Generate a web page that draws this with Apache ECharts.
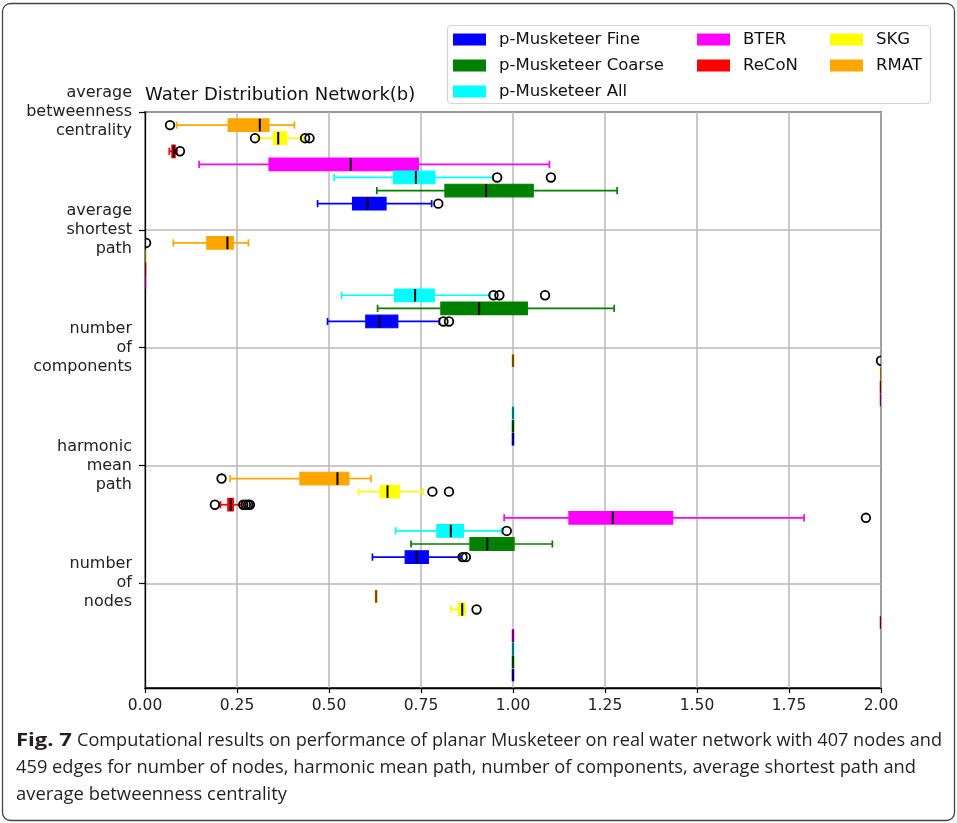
<!DOCTYPE html>
<html>
<head>
<meta charset="utf-8">
<script src="https://cdn.jsdelivr.net/npm/echarts@6/dist/echarts.min.js"></script>
<style>
  html, body { margin: 0; padding: 0; background: #fff; }
  #chart { width: 957px; height: 823px; }
</style>
</head>
<body>
<div id="chart"></div>
<script>
// Metrics, top to bottom on the vertical axis
const metrics = [
  'average\nbetweenness\ncentrality',
  'average\nshortest\npath',
  'number\nof\ncomponents',
  'harmonic\nmean\npath',
  'number\nof\nnodes'
];

// Generators, drawn top to bottom inside each metric block
const methods = ['RMAT', 'SKG', 'ReCoN', 'BTER', 'p-Musketeer All', 'p-Musketeer Coarse', 'p-Musketeer Fine'];
const colors  = ['#ffa500', '#ffff00', '#ff0000', '#ff00ff', '#00ffff', '#008000', '#0000ff'];

const xTicks = [0, 0.25, 0.5, 0.75, 1, 1.25, 1.5, 1.75, 2];

// Five-number summaries: [low whisker, Q1, median, Q3, high whisker], rows follow `methods`
const betweenness = [
  [0.086, 0.226, 0.312, 0.337, 0.406],
  [0.305, 0.349, 0.362, 0.385, 0.430],
  [0.066, 0.073, 0.078, 0.082, 0.087],
  [0.147, 0.337, 0.559, 0.743, 1.099],
  [0.514, 0.675, 0.736, 0.788, 0.946],
  [0.630, 0.815, 0.927, 1.055, 1.283],
  [0.469, 0.564, 0.605, 0.655, 0.779]
];
const shortestPath = [
  [0.077, 0.168, 0.224, 0.240, 0.281],
  [0, 0, 0, 0, 0],
  [0, 0, 0, 0, 0],
  [0, 0, 0, 0, 0],
  [0.534, 0.678, 0.734, 0.786, 0.938],
  [0.632, 0.804, 0.908, 1.039, 1.275],
  [0.496, 0.600, 0.637, 0.687, 0.800]
];
const components = [
  [1, 1, 1, 1, 1],
  [2, 2, 2, 2, 2],
  [2, 2, 2, 2, 2],
  [2, 2, 2, 2, 2],
  [1, 1, 1, 1, 1],
  [1, 1, 1, 1, 1],
  [1, 1, 1, 1, 1]
];
const harmonicMean = [
  [0.231, 0.421, 0.523, 0.554, 0.614],
  [0.580, 0.639, 0.659, 0.691, 0.756],
  [0.205, 0.225, 0.233, 0.240, 0.262],
  [0.976, 1.152, 1.271, 1.434, 1.791],
  [0.681, 0.793, 0.831, 0.865, 0.969],
  [0.723, 0.883, 0.930, 1.003, 1.107],
  [0.618, 0.707, 0.738, 0.770, 0.856]
];
const nodeCount = [
  [0.628, 0.628, 0.628, 0.628, 0.628],
  [0.832, 0.851, 0.862, 0.870, 0.870],
  [2, 2, 2, 2, 2],
  [1, 1, 1, 1, 1],
  [1, 1, 1, 1, 1],
  [1, 1, 1, 1, 1],
  [1, 1, 1, 1, 1]
];

// Outlying values beyond the whiskers, rows follow `methods`
const betweennessOutliers  = [[0.068], [0.299, 0.435, 0.447], [0.095], [], [0.957, 1.103], [], [0.797]];
const shortestPathOutliers = [[0.003], [], [], [], [0.947, 0.963, 1.087], [], [0.811, 0.826]];
const componentsOutliers   = [[2.0], [], [], [], [], [], []];
const harmonicMeanOutliers = [[0.208], [0.781, 0.826], [0.190, 0.267, 0.274, 0.280, 0.285], [1.959], [0.983], [], [0.863, 0.872]];
const nodeCountOutliers    = [[], [0.901], [], [], [], [], []];

const summaries = [betweenness, shortestPath, components, harmonicMean, nodeCount];
const outliers  = [betweennessOutliers, shortestPathOutliers, componentsOutliers, harmonicMeanOutliers, nodeCountOutliers];

// Vertical layout: each metric block holds 9 slots (tick slot + 7 boxes + gap)
const SLOTS_PER_GROUP = 9;
const AXIS_SLOTS = 44;
const slotOf = (g, k) => g * SLOTS_PER_GROUP + 1 + k;
const groupTicks = metrics.map((_, g) => g * SLOTS_PER_GROUP);

const FONT = 'DejaVu Sans';
const CAPTION_FONT = '"Open Sans", "Noto Sans", sans-serif';

function boxRenderer(color) {
  return function (params, api) {
    const pos = api.value(0);
    const y = api.coord([0, pos])[1];
    const slotPx = Math.abs(api.coord([0, pos + 0.5])[1] - api.coord([0, pos - 0.5])[1]);
    const h = slotPx * 0.96;
    const cap = slotPx * 0.55;
    const lo = api.coord([api.value(1), pos])[0];
    const q1 = api.coord([api.value(2), pos])[0];
    const md = api.coord([api.value(3), pos])[0];
    const q3 = api.coord([api.value(4), pos])[0];
    const hi = api.coord([api.value(5), pos])[0];
    const flat = Math.abs(q3 - q1) < 0.5;
    const wStyle = { stroke: color, lineWidth: 1.7 };
    return {
      type: 'group',
      children: [
        { type: 'line', shape: { x1: lo, y1: y, x2: q1, y2: y }, style: wStyle },
        { type: 'line', shape: { x1: q3, y1: y, x2: hi, y2: y }, style: wStyle },
        { type: 'line', shape: { x1: lo, y1: y - cap / 2, x2: lo, y2: y + cap / 2 }, style: wStyle },
        { type: 'line', shape: { x1: hi, y1: y - cap / 2, x2: hi, y2: y + cap / 2 }, style: wStyle },
        { type: 'rect', shape: { x: q1, y: y - h / 2, width: q3 - q1, height: h },
          style: { fill: color, stroke: color, lineWidth: flat ? 2.6 : 1.2 } },
        { type: 'line', shape: { x1: md, y1: y - h / 2, x2: md, y2: y + h / 2 },
          style: { stroke: '#000', lineWidth: 2, opacity: flat ? 0.55 : 1 } }
      ]
    };
  };
}

const boxSeries = methods.map((name, k) => ({
  type: 'custom',
  name: name,
  clip: true,
  z: 3,
  itemStyle: { color: colors[k] },
  encode: { x: [1, 2, 3, 4, 5], y: 0 },
  data: summaries.map((rows, g) => [slotOf(g, k)].concat(rows[k])),
  renderItem: boxRenderer(colors[k])
}));

const flierData = [];
outliers.forEach((rows, g) => rows.forEach((vals, k) => vals.forEach(v => flierData.push([v, slotOf(g, k)]))));

const flierSeries = {
  type: 'custom',
  name: 'outliers',
  clip: true,
  z: 4,
  encode: { x: 0, y: 1 },
  data: flierData,
  renderItem: function (params, api) {
    const p = api.coord([api.value(0), api.value(1)]);
    return { type: 'circle', shape: { cx: p[0], cy: p[1], r: 4.3 },
             style: { fill: 'none', stroke: '#000', lineWidth: 1.8 } };
  }
};

// Caption lines, each compressed horizontally to its column width
const measureCtx = document.createElement('canvas').getContext('2d');
function fitScale(text, font, width) {
  measureCtx.font = font;
  return width / measureCtx.measureText(text).width;
}
const capFont = '17.5px ' + CAPTION_FONT;
const capBold = 'bold 17.5px ' + CAPTION_FONT;
const captionLines = [
  { text: 'Fig. 7', font: capBold, x: 16, y: 741, w: 56 },
  { text: 'Computational results on performance of planar Musketeer on real water network with 407 nodes and', font: capFont, x: 77, y: 741, w: 865 },
  { text: '459 edges for number of nodes, harmonic mean path, number of components, average shortest path and', font: capFont, x: 16, y: 768, w: 900 },
  { text: 'average betweenness centrality', font: capFont, x: 16, y: 795, w: 271 }
];
const captionGraphics = captionLines.map(c => ({
  type: 'text',
  x: c.x, y: c.y,
  scaleX: fitScale(c.text, c.font, c.w),
  style: { text: c.text, font: c.font, fill: '#231f20', verticalAlign: 'middle', align: 'left' }
}));

const legendBase = {
  orient: 'vertical', padding: 0, itemGap: 9, itemWidth: 33, itemHeight: 12,
  icon: 'rect', selectedMode: false, top: 31,
  textStyle: { fontFamily: FONT, fontSize: 16.5, color: '#111', lineHeight: 16, padding: [0, 0, 0, 8] }
};

const chart = echarts.init(document.getElementById('chart'), null, { renderer: 'canvas' });
chart.setOption({
  animation: false,
  backgroundColor: '#fff',
  title: {
    text: 'Water Distribution Network(b)',
    left: 145, top: 84, padding: 0,
    textStyle: { fontFamily: FONT, fontSize: 18, fontWeight: 'normal', color: '#111', lineHeight: 22 }
  },
  legend: [
    Object.assign({}, legendBase, { left: 453, data: ['p-Musketeer Fine', 'p-Musketeer Coarse', 'p-Musketeer All'] }),
    Object.assign({}, legendBase, { left: 697, data: ['BTER', 'ReCoN'] }),
    Object.assign({}, legendBase, { left: 830, data: ['SKG', 'RMAT'] })
  ],
  grid: {
    left: 145, top: 112, width: 736, height: 576,
    show: true, borderColor: '#000', borderWidth: 1.3, backgroundColor: 'transparent',
    containLabel: false, outerBoundsMode: 'none'
  },
  xAxis: {
    type: 'value', min: xTicks[0], max: xTicks[xTicks.length - 1], interval: 0.25,
    axisLine: { show: true, onZero: false, lineStyle: { color: '#000', width: 1.3 } },
    axisTick: { show: true, length: 5, lineStyle: { color: '#000', width: 1.2 } },
    splitLine: { show: true, lineStyle: { color: '#b8b8b8', width: 1.5 } },
    axisLabel: {
      margin: 10, fontFamily: FONT, fontSize: 15.5, color: '#222',
      formatter: v => v.toFixed(2)
    }
  },
  yAxis: {
    type: 'value', inverse: true, min: 0, max: AXIS_SLOTS, interval: SLOTS_PER_GROUP,
    axisLine: { show: true, onZero: false, lineStyle: { color: '#000', width: 1.3 } },
    axisTick: { show: true, length: 6, customValues: groupTicks, lineStyle: { color: '#000', width: 1.2 } },
    splitLine: { show: true, lineStyle: { color: '#b8b8b8', width: 1.5 } },
    axisLabel: {
      customValues: groupTicks, showMinLabel: true,
      margin: 13, fontFamily: FONT, fontSize: 16, lineHeight: 19, color: '#222', align: 'right',
      formatter: v => (v % SLOTS_PER_GROUP === 0 && metrics[v / SLOTS_PER_GROUP]) || ''
    }
  },
  graphic: [
    { type: 'rect', z: -10, shape: { x: 2.5, y: 3.5, width: 952, height: 817, r: 8 },
      style: { fill: 'none', stroke: '#444', lineWidth: 1.3 } },
    { type: 'rect', z: -5, shape: { x: 447.5, y: 25.5, width: 483, height: 78, r: 4 },
      style: { fill: '#fff', stroke: '#d4d4d4', lineWidth: 1.2 } }
  ].concat(captionGraphics),
  series: boxSeries.concat([flierSeries])
});
</script>
</body>
</html>
